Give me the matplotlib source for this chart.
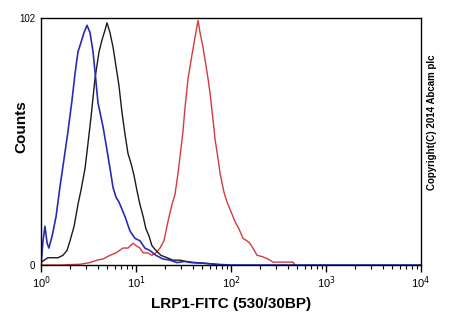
import matplotlib
matplotlib.use("Agg")
import matplotlib.pyplot as plt
from matplotlib.ticker import FixedLocator, NullFormatter, LogLocator

plt.rcParams['font.family'] = ['Liberation Sans', 'DejaVu Sans']

## histogram data (fluorescence intensity, counts)
blue_x = [1.00, 1.05, 1.10, 1.16, 1.21, 1.31, 1.44, 1.58, 1.75, 1.92, 2.12, 2.28, 2.45, 2.64,
          2.84, 3.05, 3.28, 3.53, 3.70, 3.98, 4.18, 4.50, 4.83, 5.32, 5.73, 6.16, 6.62, 7.12,
          7.66, 8.65, 9.76, 11.0, 12.4, 14.0, 16.2, 19.2, 22.8, 27.0, 32.8, 41.8, 53.2, 67.9,
          98, 10000]
blue_y = [0, 10, 16, 9, 7, 12, 20, 32, 44, 55, 68, 79, 88, 92,
          96, 99, 96, 88, 80, 67, 63, 57, 50, 40, 32, 28, 26, 23,
          20, 14, 11, 10, 7, 6, 4, 2.5, 2, 1, 1.5, 1, 0.7, 0.3,
          0, 0]

black_x = [1.00, 1.08, 1.18, 1.34, 1.51, 1.70, 1.88, 2.02, 2.23, 2.45, 2.64, 2.91, 3.12, 3.36,
           3.70, 4.08, 4.39, 4.72, 4.95, 5.32, 5.73, 6.16, 6.62, 7.12, 7.66, 8.24, 8.86, 9.53,
           10.2, 11.0, 11.9, 12.7, 13.7, 14.7, 16.2, 18.3, 21.2, 24.5, 29.1, 37.0, 47.2, 63.1, 80.4]
black_y = [1, 2, 3, 3, 3, 4, 6, 10, 16, 25, 31, 40, 50, 61,
           77, 88, 93, 97, 100, 96, 90, 82, 74, 63, 54, 46, 42, 37,
           31, 25, 20, 15, 12, 8, 6, 4, 3, 2, 2, 1, 0.8, 0.5, 0]

red_x = [1.00, 1.58, 2.57, 3.28, 3.89, 4.50, 5.32, 6.16, 7.30, 8.24, 9.30, 10.0, 11.0, 11.9,
         13.4, 14.7, 16.2, 17.9, 19.7, 21.7, 23.9, 25.7, 27.7, 29.1, 31.2, 32.8, 35.3, 38.9,
         41.8, 45.0, 47.2, 50.7, 53.2, 57.3, 60.1, 64.7, 67.9, 73.0, 76.6, 84.4, 90.8, 100,
         110, 121, 134, 147, 158, 170, 188, 212, 245, 277, 370, 450, 472]
red_y = [0, 0, 0.3, 1, 2, 2.5, 4, 5, 7, 7, 9, 8, 7, 5,
         5, 4, 5, 7, 10, 18, 25, 29, 38, 45, 55, 65, 77, 87,
         94, 101, 96, 90, 85, 77, 71, 60, 52, 44, 38, 30, 26, 22,
         18, 15, 11, 10, 9, 7, 4, 3.5, 2.5, 1.2, 1.2, 1.2, 0]

x_ticks = [1, 10, 100, 1000, 10000]
x_ticklabels = ['10$^{0}$', '10$^{1}$', '10$^{2}$', '10$^{3}$', '10$^{4}$']
y_ticks = [0, 102]
y_ticklabels = ['0', '102']

fig = plt.figure(figsize=(4.5, 3.3), dpi=100)
ax = fig.add_axes([41 / 450, 65 / 330, 380 / 450, 247 / 330])

ax.plot(red_x, red_y, color='#d43a3a', lw=1.0)
ax.plot(black_x, black_y, color='#1a1a1a', lw=1.0)
ax.plot(blue_x, blue_y, color='#2a2ab8', lw=1.2)

ax.set_xscale('log')
ax.set_xlim(1, 10000)
ax.set_ylim(0, 102)

ax.xaxis.set_major_locator(FixedLocator(x_ticks))
ax.set_xticklabels(x_ticklabels, fontsize=8)
ax.xaxis.set_minor_locator(LogLocator(base=10, subs=range(2, 10)))
ax.xaxis.set_minor_formatter(NullFormatter())
ax.tick_params(axis='x', which='major', length=5, width=1, direction='out', pad=2)
ax.tick_params(axis='x', which='minor', length=3, width=0.8, direction='out')

ax.set_yticks(y_ticks)
ax.set_yticklabels(y_ticklabels, fontsize=7)
ax.tick_params(axis='y', length=0, pad=4)

for s in ax.spines.values():
    s.set_linewidth(1)
    s.set_color('black')

ax.set_xlabel('LRP1-FITC (530/30BP)', fontsize=11, fontweight='bold', labelpad=4)
fig.text(21 / 450, 1 - 127 / 330, 'Counts', rotation=90, fontsize=11,
         fontweight='bold', ha='center', va='center')

fig.text(432 / 450, 1 - 122 / 330, 'Copyright(C) 2014 Abcam plc', rotation=90,
         fontsize=7, fontweight='bold', ha='center', va='center')

fig.savefig('out.png', dpi=100)
